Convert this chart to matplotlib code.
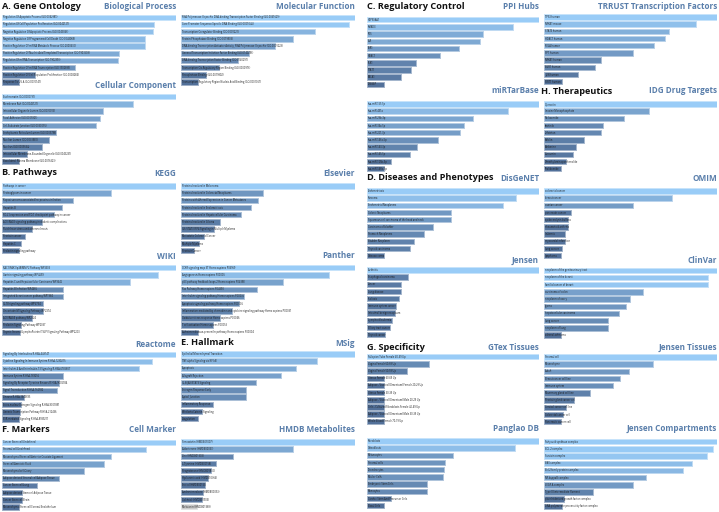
import matplotlib
matplotlib.use('Agg')
import matplotlib.pyplot as plt
import numpy as np

# ---------------- data ----------------
bp_terms = ["Regulation Of Apoptotic Process (GO:0042981)",
            "Regulation Of Cell Population Proliferation (GO:0042127)",
            "Negative Regulation Of Apoptotic Process (GO:0043066)",
            "Negative Regulation Of Programmed Cell Death (GO:0043069)",
            "Positive Regulation Of miRNA Metabolic Process (GO:2000630)",
            "Positive Regulation Of Nucleic Acid-Templated Transcription (GO:1903508)",
            "Regulation Of miRNA Transcription (GO:1902893)",
            "Positive Regulation Of miRNA Transcription (GO:1902895)",
            "Positive Regulation Of Cell Population Proliferation (GO:0008284)",
            "Response To UV-A (GO:0070141)"]
bp_vals = [1.0, 0.874, 0.868, 0.822, 0.820, 0.672, 0.669, 0.421, 0.190, 0.100]

mf_terms = ["RNA Polymerase II-specific DNA-binding Transcription Factor Binding (GO:0061629)",
            "Core Promoter Sequence-Specific DNA Binding (GO:0001046)",
            "Transcription Coregulator Binding (GO:0001221)",
            "Protein Phosphatase Binding (GO:0019903)",
            "DNA-binding Transcription Activator Activity, RNA Polymerase II-specific (GO:0001228)",
            "General Transcription Initiation Factor Binding (GO:0140296)",
            "DNA-binding Transcription Factor Binding (GO:0140297)",
            "Transcription Cis-Regulatory Region Binding (GO:0000976)",
            "Phosphatase Binding (GO:0019902)",
            "Transcription Regulatory Region Nucleic Acid Binding (GO:0001067)"]
mf_vals = [1.0, 0.967, 0.768, 0.643, 0.543, 0.393, 0.328, 0.217, 0.146, 0.096]

cc_terms = ["Euchromatin (GO:0000791)", "Membrane Raft (GO:0045121)",
            "Intracellular Organelle Lumen (GO:0070013)", "Focal Adhesion (GO:0005925)",
            "Cell-Substrate Junction (GO:0030055)", "Endoplasmic Reticulum Lumen (GO:0005788)",
            "Nuclear Lumen (GO:0031981)", "Nucleus (GO:0005634)",
            "Intracellular Membrane-Bounded Organelle (GO:0043231)",
            "Basolateral Plasma Membrane (GO:0016323)"]
cc_vals = [1.0, 0.751, 0.580, 0.563, 0.542, 0.308, 0.272, 0.232, 0.144, 0.098]

kegg_terms = ["Pathways in cancer", "Proteoglycans in cancer",
              "Kaposi sarcoma-associated herpesvirus infection", "Hepatitis B",
              "PD-L1 expression and PD-1 checkpoint pathway in cancer",
              "AGE-RAGE signaling pathway in diabetic complications",
              "Fluid shear stress and atherosclerosis", "Prostate cancer",
              "Hepatitis C", "Prolactin signaling pathway"]
kegg_vals = [1.0, 0.629, 0.409, 0.344, 0.299, 0.232, 0.174, 0.135, 0.112, 0.100]

els_terms = ["Proteins Involved in Melanoma", "Proteins Involved in Colorectal Neoplasms",
             "Proteins with Altered Expression in Cancer Metastases",
             "Proteins Involved in Endometriosis",
             "Proteins Involved in Hepatocellular Carcinoma", "Proteins Involved in Glioma",
             "IL6/STAT3/IRF4 Signaling in Multiple Myeloma", "Metastatic Colorectal Cancer",
             "Multiple Myeloma", "Prostate Cancer"]
els_vals = [1.0, 0.473, 0.443, 0.402, 0.345, 0.222, 0.188, 0.130, 0.102, 0.075]

wiki_terms = ["RAC1/PAK1/p38/MMP2 Pathway WP3303", "Gastrin signaling pathway WP4659",
              "Hepatitis C and Hepatocellular Carcinoma WP3646",
              "Hepatitis B Infection WP4666", "Integrated breast cancer pathway WP1984",
              "IL-18 signaling pathway WP4754", "Oncostatin M Signaling Pathway WP2374",
              "AGE/RAGE pathway WP2324", "Prolactin Signaling Pathway WP2037",
              "Thymic Stromal LymphoPoietin (TSLP) Signaling Pathway WP2203"]
wiki_vals = [1.0, 0.899, 0.738, 0.349, 0.351, 0.233, 0.233, 0.171, 0.109, 0.101]

pan_terms = ["CCKR signaling map ST Homo sapiens P06959", "Angiogenesis Homo sapiens P00005",
             "p53 pathway feedback loops 2 Homo sapiens P04398",
             "Ras Pathway Homo sapiens P04393",
             "Interleukin signaling pathway Homo sapiens P00036",
             "Apoptosis signaling pathway Homo sapiens P00006",
             "Inflammation mediated by chemokine and cytokine signaling pathway Homo sapiens P00031",
             "Oxidative stress response Homo sapiens P00046",
             "T cell activation Homo sapiens P00053",
             "Alzheimer disease-presenilin pathway Homo sapiens P00004"]
pan_vals = [1.0, 0.851, 0.588, 0.439, 0.360, 0.331, 0.293, 0.226, 0.184, 0.096]

rea_terms = ["Signaling By Interleukins R-HSA-449147",
             "Cytokine Signaling In Immune System R-HSA-1280215",
             "Interleukin-4 And Interleukin-13 Signaling R-HSA-6785807",
             "Immune System R-HSA-168256",
             "Signaling By Receptor Tyrosine Kinases R-HSA-9006934",
             "Signal Transduction R-HSA-162582", "Disease R-HSA-1643685",
             "Extra-nuclear Estrogen Signaling R-HSA-9009391",
             "Generic Transcription Pathway R-HSA-212436",
             "ESR-mediated Signaling R-HSA-8939211"]
rea_vals = [1.0, 0.863, 0.787, 0.348, 0.325, 0.315, 0.128, 0.108, 0.101, 0.097]

msig_terms = ["Epithelial Mesenchymal Transition", "TNF-alpha Signaling via NF-kB",
              "Apoptosis", "Allograft Rejection", "IL-6/JAK/STAT3 Signaling",
              "Estrogen Response Early", "Apical Junction", "Inflammatory Response",
              "Wnt-beta Catenin Signaling", "Coagulation"]
msig_vals = [1.0, 0.782, 0.662, 0.572, 0.430, 0.375, 0.375, 0.186, 0.122, 0.096]

cm_terms = ["Cancer Stem cell:Undefined", "Stromal cell:Undefined",
            "Mesenchymal Stem cell:Anterior Cruciate Ligament", "Stem cell:Amniotic Fluid",
            "Mesenchymal cell:Ovary", "Adipose-derived Stromal cell:Adipose Tissue",
            "Cancer Stem cell:Lung", "Adipose-derived Stem cell:Adipose Tissue",
            "Cancer Stem cell:Brain", "Mesenchymal Stem cell:Corneal Endothelium"]
cm_vals = [1.0, 0.828, 0.625, 0.588, 0.472, 0.329, 0.199, 0.116, 0.116, 0.097]

hmdb_terms = ["Simvastatin (HMDB05007)", "Aldosterone (HMDB00037)", "Zinc (HMDB01303)",
              "L-Tyrosine (HMDB00158)", "Progesterone (HMDB01830)",
              "Hyaluronic acid (HMDB10366)", "Estriol (HMDB00153)",
              "Androstenedione (HMDB00053)", "Calcitriol (HMDB01903)",
              "Melatonin (HMDB01389)"]
hmdb_vals = [1.0, 0.646, 0.299, 0.202, 0.170, 0.156, 0.137, 0.125, 0.121, 0.092]
hmdb_signif = [True] * 9 + [False]

ppi_terms = ["HSP90AA1", "SMAD3", "FOS", "AR", "ESR1", "HDAC1", "ELK1", "STAT1",
             "BRCA1", "CREBBP"]
ppi_vals = [1.0, 0.849, 0.677, 0.656, 0.534, 0.422, 0.286, 0.255, 0.197, 0.097]

trr_terms = ["TP53 human", "NFKB1 mouse", "STAT3 human", "HDAC1 human", "RELA human",
             "SP1 human", "NFKB1 human", "EGR1 human", "JUN human", "SIRT1 human"]
trr_vals = [1.0, 0.879, 0.723, 0.697, 0.636, 0.514, 0.329, 0.293, 0.197, 0.104]

mir_terms = ["hsa-miR-155-5p", "hsa-miR-451a", "hsa-miR-29b-3p", "hsa-miR-34a-5p",
             "hsa-miR-221-3p", "hsa-miR-146a-5p", "hsa-miR-143-3p", "hsa-miR-145-5p",
             "hsa-miR-125b-5p", "hsa-miR-146b-5p"]
mir_vals = [1.0, 0.818, 0.615, 0.565, 0.540, 0.412, 0.290, 0.250, 0.139, 0.101]

idg_terms = ["Quercetin", "Inosine Monophosphate", "Niclosamide", "Imatinib",
             "Cefotetan", "Bufalin", "Berberine", "Curcumin",
             "Dimethylaminoparthenolide", "Thalidomide"]
idg_vals = [1.0, 0.609, 0.462, 0.343, 0.328, 0.231, 0.187, 0.168, 0.127, 0.100]

dis_terms = ["Endometriosis", "Sarcoma", "Endometrial Neoplasms", "Colonic Neoplasms",
             "Squamous cell carcinoma of the head and neck", "Carcinoma of bladder",
             "Stomach Neoplasms", "Bladder Neoplasm", "Thyroid carcinoma", "Osteosarcoma"]
dis_vals = [1.0, 0.868, 0.788, 0.491, 0.487, 0.386, 0.332, 0.276, 0.252, 0.101]

omim_terms = ["colorectal cancer", "breast cancer", "ovarian cancer", "pancreatic cancer",
              "epidermolysis bullosa", "rheumatoid arthritis", "leukemia",
              "myocardial infarction", "lung cancer", "lymphoma"]
omim_vals = [1.0, 0.742, 0.516, 0.156, 0.139, 0.139, 0.123, 0.123, 0.104, 0.100]

jen_terms = ["Arthritis", "Esophageal carcinoma", "Cancer", "Lung disease", "Scoliosis",
             "Immune system cancer", "Intestinal benign neoplasm", "Lymphoid leukemia",
             "Biliary tract cancer", "Thyroid cancer"]
jen_vals = [1.0, 0.237, 0.200, 0.200, 0.184, 0.169, 0.165, 0.148, 0.132, 0.103]

clin_terms = ["neoplasm of the genitourinary tract", "neoplasm of the breast",
              "familial cancer of breast", "carcinoma of colon", "neoplasm of ovary",
              "glioma", "hepatocellular carcinoma", "lung cancer", "neoplasm of lung",
              "adrenal adenoma"]
clin_vals = [1.0, 0.950, 0.950, 0.572, 0.499, 0.474, 0.435, 0.368, 0.368, 0.100]

gtex_terms = ["Fallopian Tube Female 40-49 Up", "Vagina Female 60-69 Up",
              "Vagina Female 50-59 Up", "Uterus Female 60-69 Up",
              "Adipose - Visceral (Omentum) Female 20-29 Up", "Uterus Female 30-39 Up",
              "Adipose - Visceral (Omentum) Male 20-29 Up",
              "Cells - Cultured Fibroblasts Female 40-49 Up",
              "Adipose - Visceral (Omentum) Male 30-39 Up", "Whole Blood Female 70-79 Up"]
gtex_vals = [1.0, 0.360, 0.234, 0.101, 0.101, 0.101, 0.101, 0.101, 0.101, 0.101]

jt_terms = ["Stromal cell", "Mesenchyme", "Adult", "Breast cancer cell line",
            "Immune system", "Mammary gland cell line", "Prostate gland cancer cell",
            "Cervical cancer cell line", "Colorectal cancer cell", "Pancreatic cancer cell"]
jt_vals = [1.0, 0.631, 0.491, 0.440, 0.399, 0.265, 0.173, 0.129, 0.111, 0.100]

pg_terms = ["Fibroblasts", "Osteoblasts", "Melanocytes", "Stromal cells", "Chondrocytes",
            "Müller Cells", "Embryonic Stem Cells", "Monocytes",
            "Cardiac Stem And Precursor Cells", "Basal Cells"]
pg_vals = [1.0, 0.861, 0.499, 0.455, 0.447, 0.443, 0.350, 0.348, 0.139, 0.101]

jc_terms = ["Fatty acid synthase complex", "BCL-2 complex", "Survivin complex",
            "BAX complex", "Bcl-2 family protein complex", "NF-kappaB complex",
            "VEGF-A complex", "Type III intermediate filament",
            "platelet-derived growth factor complex",
            "DNA polymerase processivity factor complex"]
jc_vals = [1.0, 0.977, 0.943, 0.853, 0.806, 0.589, 0.513, 0.284, 0.117, 0.102]

# ---------------- layout (pixels) ----------------
W, H = 719, 512
COLS = {1: (2, 176), 2: (181, 355), 3: (367, 539), 4: (544, 717)}
SLOT = 7.19

panels = [
    ("Biological Process", bp_terms, bp_vals, None, 1, 17.3, 6.7),
    ("Molecular Function", mf_terms, mf_vals, None, 2, 17.3, 6.7),
    ("Cellular Component", cc_terms, cc_vals, None, 1, 96.7, 86.0),
    ("KEGG", kegg_terms, kegg_vals, None, 1, 186.0, 173.0),
    ("Elsevier", els_terms, els_vals, None, 2, 186.0, 174.0),
    ("WIKI", wiki_terms, wiki_vals, None, 1, 267.7, 256.7),
    ("Panther", pan_terms, pan_vals, None, 2, 267.7, 255.5),
    ("Reactome", rea_terms, rea_vals, None, 1, 354.3, 344.3),
    ("MSig", msig_terms, msig_vals, None, 2, 354.0, 343.0),
    ("Cell Marker", cm_terms, cm_vals, None, 1, 442.3, 430.0),
    ("HMDB Metabolites", hmdb_terms, hmdb_vals, hmdb_signif, 2, 442.0, 429.3),
    ("PPI Hubs", ppi_terms, ppi_vals, None, 3, 19.7, 6.7),
    ("TRRUST Transcription Factors", trr_terms, trr_vals, None, 4, 17.0, 6.7),
    ("miRTarBase", mir_terms, mir_vals, None, 3, 104.0, 90.7),
    ("IDG Drug Targets", idg_terms, idg_vals, None, 4, 104.0, 90.7),
    ("DisGeNET", dis_terms, dis_vals, None, 3, 191.0, 178.3),
    ("OMIM", omim_terms, omim_vals, None, 4, 191.0, 178.3),
    ("Jensen", jen_terms, jen_vals, None, 3, 270.0, 260.3),
    ("ClinVar", clin_terms, clin_vals, None, 4, 270.3, 260.3),
    ("GTex Tissues", gtex_terms, gtex_vals, None, 3, 356.7, 347.0),
    ("Jensen Tissues", jt_terms, jt_vals, None, 4, 357.0, 347.7),
    ("Panglao DB", pg_terms, pg_vals, None, 3, 441.0, 428.7),
    ("Jensen Compartments", jc_terms, jc_vals, None, 4, 441.7, 428.7),
]

headers = [
    ("A.", "Gene Ontology", 2, 6.5),
    ("B.", "Pathways", 2, 172.5),
    ("E.", "Hallmark", 181, 342.5),
    ("F.", "Markers", 2, 429.5),
    ("C.", "Regulatory Control", 367, 6.5),
    ("H.", "Therapeutics", 541, 92.0),
    ("D.", "Diseases and Phenotypes", 367, 178.0),
    ("G.", "Specificity", 367, 347.0),
]

LIGHT = np.array([0.60, 0.80, 0.97])
DARK = np.array([0.29, 0.40, 0.56])
GREY = np.array([0.80, 0.80, 0.80])
TITLE_COLOR = '#5a7fab'
FONT = ['Open Sans', 'DejaVu Sans']

fig = plt.figure(figsize=(W / 100, H / 100), dpi=100)
fig.patch.set_facecolor('white')

for title, terms, vals, signif, col, c1, ty in panels:
    x0, x1 = COLS[col]
    top = c1 - SLOT / 2
    h = SLOT * 10
    ax = fig.add_axes([x0 / W, 1 - (top + h) / H, (x1 - x0) / W, h / H])
    v = np.asarray(vals, dtype=float)
    frac = v / v.max()
    cols = []
    for i, f in enumerate(frac):
        if signif is not None and not signif[i]:
            c = GREY
        else:
            c = DARK + (LIGHT - DARK) * f
        cols.append(c)
    edges = [tuple(c + (1 - c) * 0.45) for c in cols]
    ax.barh(np.arange(len(v)), frac, height=0.76, color=[tuple(c) for c in cols],
            edgecolor=edges, linewidth=0.7)
    for i, t in enumerate(terms):
        ax.text(0.006, i, t, fontsize=1.85, family=FONT, color='#1a1a1a',
                ha='left', va='center')
    ax.set_xlim(0, 1.0)
    ax.set_ylim(len(v) - 0.5, -0.5)
    ax.axis('off')
    fig.text(x1 / W, 1 - ty / H, title, ha='right', va='center', fontsize=5.9,
             family=FONT, weight='bold', color=TITLE_COLOR)

for letter, name, x, y in headers:
    fig.text(x / W, 1 - y / H, letter + " " + name, ha='left', va='center',
             fontsize=6.6, family=FONT, weight='bold', color='#111111')

fig.savefig('out.png', dpi=100, facecolor='white')
